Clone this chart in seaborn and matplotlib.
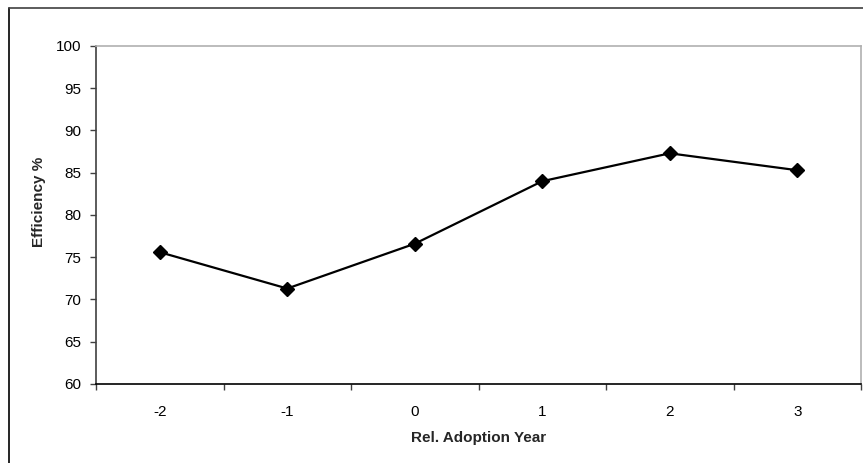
import matplotlib
matplotlib.use("Agg")
import matplotlib.pyplot as plt
import seaborn as sns
import pandas as pd
from matplotlib.lines import Line2D

# dados
anos = ["-2", "-1", "0", "1", "2", "3"]
eficiencia = [75.6, 71.3, 76.6, 84.0, 87.3, 85.3]

df = pd.DataFrame({"ano": anos, "eff": eficiencia})

sns.set_theme(style="white")
plt.rcParams["font.family"] = ["Liberation Sans", "DejaVu Sans"]

W, H = 863, 463
fig = plt.figure(figsize=(W / 100, H / 100), dpi=100)
ax = fig.add_axes([96 / W, 1 - 384 / H, (861 - 96) / W, (384 - 46) / H])

sns.lineplot(data=df, x="ano", y="eff", ax=ax, color="black", linewidth=1.6,
             marker="D", markersize=7, markeredgecolor="black",
             markeredgewidth=1, sort=False)

ax.set_xlim(-0.5, len(anos) - 0.5)
ax.set_ylim(60, 100)
ax.set_yticks(range(60, 101, 5))
ax.set_xticks(range(len(anos)))
ax.set_xticklabels(anos)
ax.set_xticks([i - 0.5 for i in range(len(anos) + 1)], minor=True)

ax.tick_params(axis="y", which="major", left=True, direction="out", length=4.3,
               width=1, color="#404040", labelsize=11, pad=6.5, labelcolor="black")
ax.tick_params(axis="x", which="major", bottom=False, length=0, labelsize=11,
               pad=15, labelcolor="black")
ax.tick_params(axis="x", which="minor", bottom=True, direction="out", length=4.5,
               width=1, color="#404040")

for s in ["top", "right"]:
    ax.spines[s].set_color("#b0b0b0")
    ax.spines[s].set_linewidth(1.2)
ax.spines["left"].set_color("#404040")
ax.spines["bottom"].set_color("black")
for s in ["left", "bottom"]:
    ax.spines[s].set_linewidth(1.2)

ax.set_xlabel("Rel. Adoption Year", fontsize=11, fontweight="bold", labelpad=9)
ax.set_ylabel("Efficiency %", fontsize=11, fontweight="bold")
ax.yaxis.set_label_coords(-0.066, 0.54)

# borda externa (apenas topo e esquerda visíveis)
fig.add_artist(Line2D([9 / W, 9 / W], [0, 1 - 8 / H], transform=fig.transFigure,
                      color="black", linewidth=1.2))
fig.add_artist(Line2D([9 / W, 1], [1 - 8 / H, 1 - 8 / H], transform=fig.transFigure,
                      color="#404040", linewidth=1.2))

fig.savefig("out.png", dpi=100)
